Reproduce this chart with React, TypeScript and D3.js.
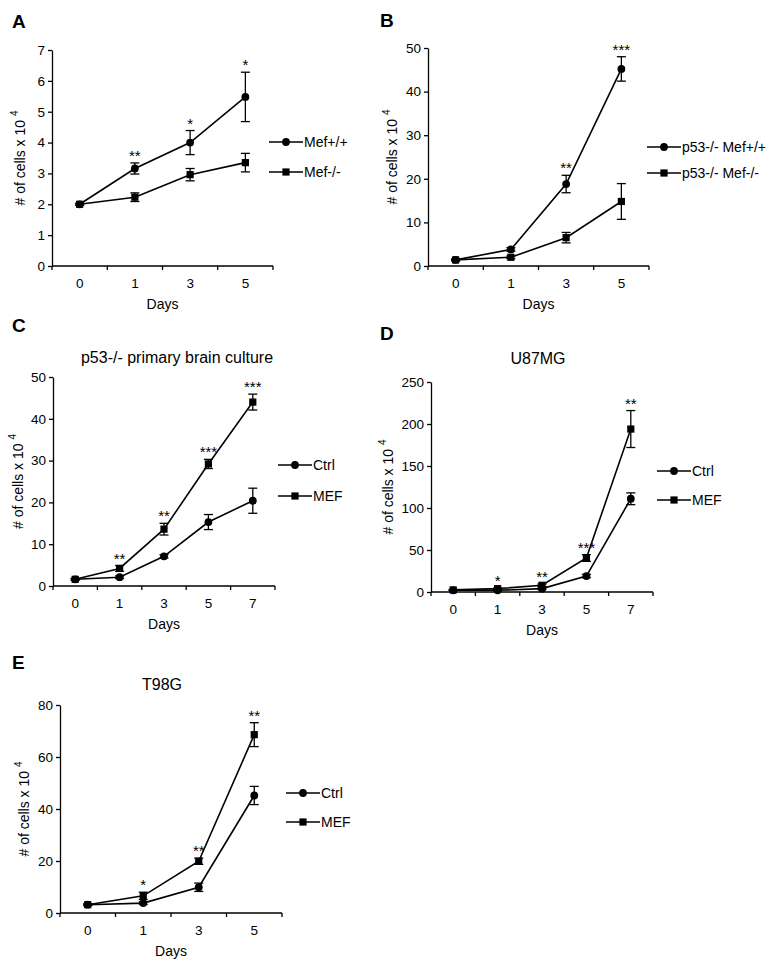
import React, { useEffect, useRef } from 'react';
import * as d3 from 'd3';

// day labels
const daysShort = ['0', '1', '3', '5'];
const daysLong = ['0', '1', '3', '5', '7'];

// A: Mef+/+ vs Mef-/-
const aWT = [2.0, 3.16, 4.0, 5.48];
const aWTErr = [0.03, 0.18, 0.39, 0.8];
const aKO = [2.0, 2.23, 2.96, 3.35];
const aKOErr = [0.03, 0.14, 0.2, 0.3];
const aStars = ['', '**', '*', '*'];

// B: p53-/- background
const bWT = [1.4, 3.8, 18.8, 45.2];
const bWTErr = [0.2, 0.4, 2.0, 2.8];
const bKO = [1.4, 2.0, 6.5, 14.8];
const bKOErr = [0.2, 0.3, 1.2, 4.1];
const bStars = ['', '', '**', '***'];

// C: p53-/- primary brain culture
const cCtrl = [1.6, 2.1, 7.1, 15.3, 20.4];
const cCtrlErr = [0.2, 0.3, 0.4, 1.8, 3.0];
const cMef = [1.6, 4.2, 13.6, 29.2, 44.0];
const cMefErr = [0.2, 0.7, 1.4, 1.1, 1.9];
const cStars = ['', '**', '**', '***', '***'];

// D: U87MG
const dCtrl = [2, 2, 4, 19, 111];
const dCtrlErr = [0.5, 0.5, 1, 2, 7];
const dMef = [2.5, 4, 8, 40.5, 194];
const dMefErr = [0.5, 0.8, 1.5, 4, 22];
const dStars = ['', '*', '**', '***', '**'];

// E: T98G
const eCtrl = [3.2, 3.8, 9.9, 45.2];
const eCtrlErr = [0.3, 0.5, 1.6, 3.5];
const eMef = [3.2, 6.6, 19.9, 68.6];
const eMefErr = [0.3, 1.4, 1.2, 4.6];
const eStars = ['', '*', '**', '**'];

const FONT = 'Arial, "Liberation Sans", sans-serif';
const TICK_FS = 13.5;
const LABEL_FS = 14;

const panels = [
  {
    letter: 'A', lx: 12, ly: 28, title: '', tx: 0, ty: 0,
    left: 52, top: 50, right: 273, bottom: 266, yMax: 7, yStep: 1, ylx: 25,
    days: daysShort,
    series: [
      { name: 'Mef+/+', shape: 'circle', values: aWT, err: aWTErr },
      { name: 'Mef-/-', shape: 'square', values: aKO, err: aKOErr },
    ],
    stars: aStars, legX: 269, legY: [142, 172],
  },
  {
    letter: 'B', lx: 380, ly: 27, title: '', tx: 0, ty: 0,
    left: 428, top: 48, right: 649, bottom: 266, yMax: 50, yStep: 10, ylx: 397,
    days: daysShort,
    series: [
      { name: 'p53-/- Mef+/+', shape: 'circle', values: bWT, err: bWTErr },
      { name: 'p53-/- Mef-/-', shape: 'square', values: bKO, err: bKOErr },
    ],
    stars: bStars, legX: 647, legY: [147, 173],
  },
  {
    letter: 'C', lx: 12, ly: 332, title: 'p53-/- primary brain culture', tx: 177, ty: 363,
    left: 53, top: 377, right: 275, bottom: 586, yMax: 50, yStep: 10, ylx: 23,
    days: daysLong,
    series: [
      { name: 'Ctrl', shape: 'circle', values: cCtrl, err: cCtrlErr },
      { name: 'MEF', shape: 'square', values: cMef, err: cMefErr },
    ],
    stars: cStars, legX: 278, legY: [465, 496],
  },
  {
    letter: 'D', lx: 380, ly: 340, title: 'U87MG', tx: 538, ty: 364,
    left: 431, top: 382, right: 653, bottom: 592, yMax: 250, yStep: 50, ylx: 393,
    days: daysLong,
    series: [
      { name: 'Ctrl', shape: 'circle', values: dCtrl, err: dCtrlErr },
      { name: 'MEF', shape: 'square', values: dMef, err: dMefErr },
    ],
    stars: dStars, legX: 657, legY: [471, 500],
  },
  {
    letter: 'E', lx: 12, ly: 669, title: 'T98G', tx: 162, ty: 690,
    left: 60, top: 705, right: 282, bottom: 913, yMax: 80, yStep: 20, ylx: 29,
    days: daysShort,
    series: [
      { name: 'Ctrl', shape: 'circle', values: eCtrl, err: eCtrlErr },
      { name: 'MEF', shape: 'square', values: eMef, err: eMefErr },
    ],
    stars: eStars, legX: 286, legY: [793, 822],
  },
];

function drawMarker(g, shape, cx, cy) {
  if (shape === 'circle') {
    g.append('circle').attr('cx', cx).attr('cy', cy).attr('r', 3.9).attr('fill', '#000');
  } else {
    g.append('rect').attr('x', cx - 3.6).attr('y', cy - 3.6).attr('width', 7.2).attr('height', 7.2).attr('fill', '#000');
  }
}

function drawPanel(svg, p) {
  const g = svg.append('g');
  const x = d3.scaleBand().domain(p.days).range([p.left, p.right]);
  const y = d3.scaleLinear().domain([0, p.yMax]).range([p.bottom, p.top]);
  const cx = (d) => x(d) + x.bandwidth() / 2;

  // panel letter + title
  g.append('text').attr('x', p.lx).attr('y', p.ly).attr('font-size', 19).attr('font-weight', 'bold').text(p.letter);
  if (p.title) {
    g.append('text').attr('x', p.tx).attr('y', p.ty).attr('text-anchor', 'middle').attr('font-size', 16).text(p.title);
  }

  // x axis: labels centred, ticks on band edges
  g.append('g')
    .attr('transform', `translate(0,${p.bottom})`)
    .call(d3.axisBottom(x).tickSize(0).tickPadding(12))
    .call((a) => a.select('.domain').remove())
    .attr('font-size', TICK_FS).attr('font-family', FONT);
  g.append('line').attr('x1', p.left).attr('x2', p.right).attr('y1', p.bottom).attr('y2', p.bottom)
    .attr('stroke', '#000').attr('stroke-width', 1.3);
  d3.range(p.days.length + 1).forEach((i) => {
    const bx = p.left + i * x.step();
    g.append('line').attr('x1', bx).attr('x2', bx).attr('y1', p.bottom).attr('y2', p.bottom + 4)
      .attr('stroke', '#000').attr('stroke-width', 1.3);
  });

  // y axis
  g.append('g')
    .attr('transform', `translate(${p.left},0)`)
    .call(d3.axisLeft(y)
      .tickValues(d3.range(0, p.yMax + p.yStep / 2, p.yStep))
      .tickFormat(d3.format('d'))
      .tickSize(4).tickPadding(3).tickSizeOuter(0))
    .attr('font-size', TICK_FS).attr('font-family', FONT)
    .call((a) => a.selectAll('line,path').attr('stroke-width', 1.3));

  // axis titles
  const yl = g.append('text')
    .attr('transform', `translate(${p.ylx},${(p.top + p.bottom) / 2}) rotate(-90)`)
    .attr('text-anchor', 'middle').attr('font-size', LABEL_FS);
  yl.append('tspan').text('# of cells x 10 ');
  yl.append('tspan').attr('font-size', 10).attr('dy', -7).text('4');
  g.append('text').attr('x', (p.left + p.right) / 2).attr('y', p.bottom + 43)
    .attr('text-anchor', 'middle').attr('font-size', LABEL_FS).text('Days');

  // series
  const line = d3.line().x((d) => d[0]).y((d) => d[1]);
  p.series.forEach((s) => {
    const pts = p.days.map((d, i) => [cx(d), y(s.values[i])]);
    g.append('path').attr('d', line(pts)).attr('fill', 'none').attr('stroke', '#000').attr('stroke-width', 1.6);
  });
  p.series.forEach((s) => {
    p.days.forEach((d, i) => {
      const px = cx(d);
      const y0 = y(s.values[i] - s.err[i]);
      const y1 = y(s.values[i] + s.err[i]);
      g.append('line').attr('x1', px).attr('x2', px).attr('y1', y0).attr('y2', y1).attr('stroke', '#000').attr('stroke-width', 1.3);
      [y0, y1].forEach((yy) => {
        g.append('line').attr('x1', px - 4.5).attr('x2', px + 4.5).attr('y1', yy).attr('y2', yy).attr('stroke', '#000').attr('stroke-width', 1.3);
      });
      drawMarker(g, s.shape, px, y(s.values[i]));
    });
  });

  // significance stars
  p.days.forEach((d, i) => {
    if (!p.stars[i]) return;
    const top = d3.max(p.series, (s) => s.values[i] + s.err[i]);
    g.append('text').attr('x', cx(d)).attr('y', y(top) - 2).attr('text-anchor', 'middle')
      .attr('font-size', 15).text(p.stars[i]);
  });

  // legend
  p.series.forEach((s, i) => {
    const ly = p.legY[i];
    g.append('line').attr('x1', p.legX).attr('x2', p.legX + 34).attr('y1', ly).attr('y2', ly)
      .attr('stroke', '#000').attr('stroke-width', 1.6);
    drawMarker(g, s.shape, p.legX + 17, ly);
    g.append('text').attr('x', p.legX + 35).attr('y', ly + 5).attr('font-size', LABEL_FS).text(s.name);
  });
}

const App = () => {
  const ref = useRef(null);

  useEffect(() => {
    const svg = d3.select(ref.current);
    svg.selectAll('*').remove();
    svg.append('rect').attr('width', 774).attr('height', 965).attr('fill', '#fff');
    panels.forEach((p) => drawPanel(svg, p));
  }, []);

  return (
    <svg
      ref={ref}
      width={774}
      height={965}
      style={{ position: 'absolute', left: 0, top: 0, fontFamily: FONT }}
    />
  );
};

export default App;
